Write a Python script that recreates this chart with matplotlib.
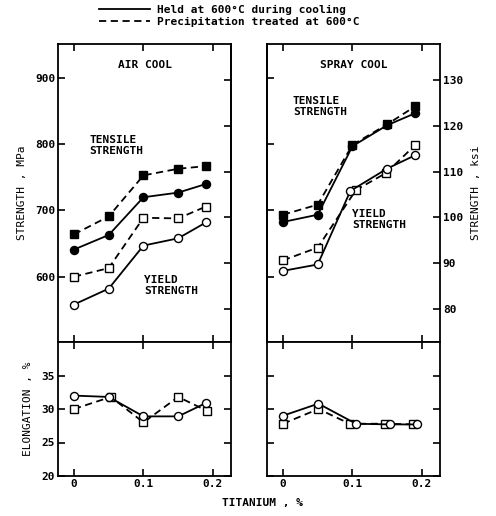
import matplotlib
matplotlib.use("Agg")
import matplotlib.pyplot as plt
from matplotlib.lines import Line2D

# ---------------- data ----------------
ti = [0, 0.05, 0.1, 0.15, 0.19]

# Air cool strength (MPa)
air_ts_held = [641, 663, 720, 727, 740]
air_ts_prec = [664, 691, 753, 763, 767]
air_ys_held = [558, 582, 647, 658, 682]
air_ys_prec = [600, 613, 689, 688, 706]

# Spray cool strength (ksi)
spray_ts_held = [99.0, 100.6, 115.6, 120.2, 122.8]
spray_ts_prec = [100.6, 102.8, 115.9, 120.4, 124.3]
spray_ys_held_x = [0, 0.05, 0.097, 0.15, 0.19]
spray_ys_held = [88.3, 89.7, 105.8, 110.7, 113.6]
spray_ys_prec_x = [0, 0.05, 0.105, 0.148, 0.19]
spray_ys_prec = [90.6, 93.4, 106.0, 109.7, 115.8]

# Elongation (%)
air_el_held_x = [0, 0.05, 0.1, 0.15, 0.19]
air_el_held = [32.0, 31.8, 28.9, 28.9, 30.9]
air_el_prec_x = [0, 0.053, 0.1, 0.15, 0.192]
air_el_prec = [30.0, 31.8, 28.0, 31.8, 29.7]
spray_el_held_x = [0, 0.051, 0.105, 0.154, 0.193]
spray_el_held = [29.0, 30.8, 27.8, 27.7, 27.7]
spray_el_prec_x = [0, 0.051, 0.096, 0.147, 0.187]
spray_el_prec = [27.8, 30.0, 27.8, 27.8, 27.7]

mpa_ticks = [600, 700, 800, 900]
ksi_ticks = [80, 90, 100, 110, 120, 130]
el_ticks = [20, 25, 30, 35]
x_ticks = [0, 0.1, 0.2]
x_ticklabels = ["0", "0.1", "0.2"]

KSI = 6.895
# ---------------- style ----------------
FONT = "DejaVu Sans Mono"
plt.rcParams["font.family"] = [FONT]
plt.rcParams["font.weight"] = "bold"
plt.rcParams["font.size"] = 8

fig = plt.figure(figsize=(4.96, 5.16), dpi=100)
W, H = 496, 516

def rect(x0, y0, x1, y1):
    return [x0 / W, 1 - y1 / H, (x1 - x0) / W, (y1 - y0) / H]

axL = fig.add_axes(rect(58, 44, 231, 342))
axLe = fig.add_axes(rect(58, 342, 231, 476))
axR = fig.add_axes(rect(267, 44, 440, 342))
axRe = fig.add_axes(rect(267, 342, 440, 476))

mpa_lim = (501.4, 951.4)
xlim = (-0.023, 0.226)

lw = 1.3
ms = 5.8
kw_held = dict(color="black", lw=lw, ls="-", marker="o", ms=ms)
kw_prec = dict(color="black", lw=lw, ls=(0, (4, 2.5)), marker="s", ms=ms)

def style_ax(ax):
    for s in ax.spines.values():
        s.set_linewidth(1.3)
    ax.tick_params(direction="in", length=5, width=1.2, labelsize=8, pad=2)
    ax.set_xlim(*xlim)
    ax.set_xticks(x_ticks)

# Air cool strength
axL.plot(ti, air_ts_prec, mfc="black", **kw_prec)
axL.plot(ti, air_ts_held, mfc="black", **kw_held)
axL.plot(ti, air_ys_prec, mfc="white", **kw_prec)
axL.plot(ti, air_ys_held, mfc="white", **kw_held)
style_ax(axL)
axL.set_ylim(*mpa_lim)
axL.set_yticks(mpa_ticks)
axL.tick_params(top=True, bottom=True, labelbottom=False)
axL.set_ylabel("STRENGTH , MPa", labelpad=6)
secL = axL.secondary_yaxis("right", functions=(lambda m: m / KSI, lambda k: k * KSI))
secL.set_yticks(ksi_ticks)
secL.tick_params(direction="in", length=5, width=1.2, labelright=False)
secL.spines["right"].set_linewidth(1.3)
axL.text(0.5, 0.93, "AIR COOL", transform=axL.transAxes, ha="center", va="center")
axL.text(0.18, 0.66, "TENSILE\nSTRENGTH", transform=axL.transAxes, ha="left",
         va="center", linespacing=1.1)
axL.text(0.50, 0.19, "YIELD\nSTRENGTH", transform=axL.transAxes, ha="left",
         va="center", linespacing=1.1)

# Spray cool strength (ksi)
axR.plot(ti, spray_ts_prec, mfc="black", **kw_prec)
axR.plot(ti, spray_ts_held, mfc="black", **kw_held)
axR.plot(spray_ys_prec_x, spray_ys_prec, mfc="white", **kw_prec)
axR.plot(spray_ys_held_x, spray_ys_held, mfc="white", **kw_held)
style_ax(axR)
axR.set_ylim(mpa_lim[0] / KSI, mpa_lim[1] / KSI)
axR.yaxis.tick_right()
axR.yaxis.set_label_position("right")
axR.set_yticks(ksi_ticks)
axR.tick_params(top=True, bottom=True, labelbottom=False, right=True, left=False)
axR.set_ylabel("STRENGTH , ksi", labelpad=6)
secR = axR.secondary_yaxis("left", functions=(lambda k: k * KSI, lambda m: m / KSI))
secR.set_yticks(mpa_ticks)
secR.tick_params(direction="in", length=5, width=1.2, labelleft=False)
secR.spines["left"].set_linewidth(1.3)
axR.text(0.5, 0.93, "SPRAY COOL", transform=axR.transAxes, ha="center", va="center")
axR.text(0.15, 0.79, "TENSILE\nSTRENGTH", transform=axR.transAxes, ha="left",
         va="center", linespacing=1.1)
axR.text(0.49, 0.41, "YIELD\nSTRENGTH", transform=axR.transAxes, ha="left",
         va="center", linespacing=1.1)

# Elongation
for ax, hx, hy, px, py in [(axLe, air_el_held_x, air_el_held, air_el_prec_x, air_el_prec),
                           (axRe, spray_el_held_x, spray_el_held, spray_el_prec_x, spray_el_prec)]:
    ax.plot(px, py, mfc="white", **kw_prec)
    ax.plot(hx, hy, mfc="white", **kw_held)
    style_ax(ax)
    ax.set_ylim(20, 40)
    ax.set_yticks(el_ticks)
    ax.set_xticklabels(x_ticklabels)
    ax.tick_params(top=True, right=True, left=True)

axLe.set_ylabel("ELONGATION , %", labelpad=6)
axRe.tick_params(labelleft=False)

fig.text(0.53, 0.015, "TITANIUM , %", ha="center", va="bottom")

# Legend
handles = [Line2D([], [], color="black", lw=lw, ls="-"),
           Line2D([], [], color="black", lw=lw, ls=(0, (4, 2.5)))]
fig.legend(handles, ["Held at 600°C during cooling", "Precipitation treated at 600°C"],
           loc="upper left", bbox_to_anchor=(0.18, 1.01), frameon=False,
           handlelength=4.6, handletextpad=0.6, labelspacing=0.15, fontsize=8)

fig.savefig("out.png", dpi=100)
